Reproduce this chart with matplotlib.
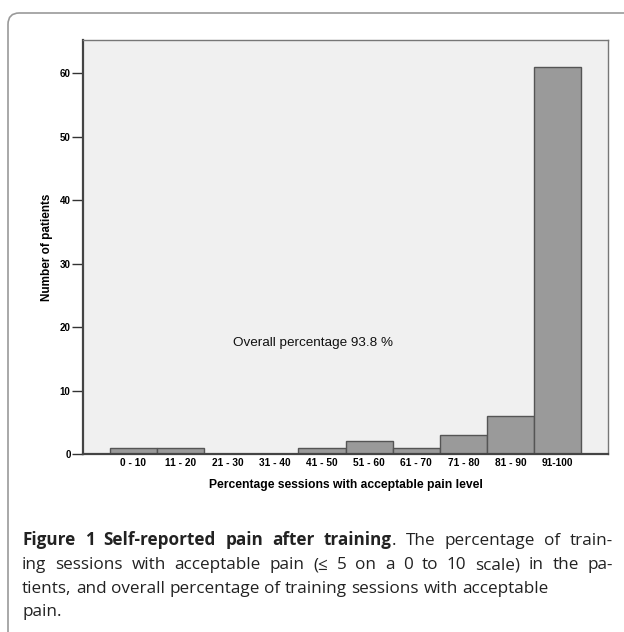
import matplotlib
matplotlib.use("Agg")
import matplotlib.pyplot as plt
from matplotlib.patches import FancyBboxPatch
import numpy as np

# Data
categories = ["0 - 10", "11 - 20", "21 - 30", "31 - 40", "41 - 50",
              "51 - 60", "61 - 70", "71 - 80", "81 - 90", "91-100"]
counts = [1, 1, 0, 0, 1, 2, 1, 3, 6, 61]
y_ticks = [0, 10, 20, 30, 40, 50, 60]
annotation = "Overall percentage 93.8 %"

W, H = 624, 632
fig = plt.figure(figsize=(W / 100, H / 100), dpi=100)
fig.patch.set_facecolor("white")


def fx(px):
    return px / W


def fy(py):
    return 1 - py / H


# Rounded outer frame (runs off the right and bottom edges)
frame = FancyBboxPatch((fx(8), fy(680)), fx(700), fy(13) - fy(680),
                       boxstyle="round,pad=0,rounding_size=0.018",
                       transform=fig.transFigure, facecolor="none",
                       edgecolor="#9a9a9a", linewidth=1.2, clip_on=False)
fig.patches.append(frame)

ax = fig.add_axes([fx(83), fy(454), fx(608) - fx(83), fy(40) - fy(454)])
ax.set_facecolor("#f0f0f0")

x = np.arange(len(categories))
ax.bar(x, counts, width=1.0, color="#9a9a9a", edgecolor="#555555", linewidth=1.0)

ax.set_xlim(-1.07, len(categories) + 0.07)
ax.set_ylim(0, 65.2)
ax.set_yticks(y_ticks)
ax.set_yticklabels([str(v) for v in y_ticks], fontsize=7, fontweight="bold",
                   family="Liberation Sans")
ax.set_xticks(x)
ax.set_xticklabels(categories, fontsize=7.3, fontweight="bold", family="Liberation Sans")
ax.tick_params(axis="y", length=8, width=1.0, color="#333333", pad=1)
ax.tick_params(axis="x", length=0, pad=3)

for side in ["left", "bottom"]:
    ax.spines[side].set_color("#444444")
    ax.spines[side].set_linewidth(1.6)
for side in ["top", "right"]:
    ax.spines[side].set_color("#777777")
    ax.spines[side].set_linewidth(1.0)

ax.set_xlabel("Percentage sessions with acceptable pain level", fontsize=8.7,
              fontweight="bold", family="Liberation Sans", labelpad=8)
ax.set_ylabel("Number of patients", fontsize=8.5, fontweight="bold",
              family="Liberation Sans", labelpad=5)

ax.text(3.82, 17.5, annotation, ha="center", va="center", fontsize=9.7,
        family="Liberation Sans", color="#111111")

# Caption, justified like the journal layout
renderer = fig.canvas.get_renderer()
cap_size = 12.3
cap_font = "Open Sans"
left_px, right_px = 22, 613
lines = [
    ([[("Figure", "bold")], [("1", "bold")], [("Self-reported", "bold")],
      [("pain", "bold")], [("after", "bold")], [("training", "bold"), (".", "normal")],
      [("The", "normal")], [("percentage", "normal")], [("of", "normal")],
      [("train-", "normal")]], True),
    ([[(w, "normal")] for w in
      "ing sessions with acceptable pain (\u2264 5 on a 0 to 10 scale) in the pa-".split(" ")], True),
    ([[(w, "normal")] for w in
      "tients, and overall percentage of training sessions with acceptable".split(" ")], False),
    ([[("pain.", "normal")]], False),
]
baselines = [545, 569, 593, 616]

space_t = fig.text(0, 0, "a a", fontsize=cap_size, family=cap_font)
aa_t = fig.text(0, 0, "aa", fontsize=cap_size, family=cap_font)
space_w = space_t.get_window_extent(renderer).width - aa_t.get_window_extent(renderer).width
space_t.remove()
aa_t.remove()

for words, base, justify in zip([l[0] for l in lines], baselines, [l[1] for l in lines]):
    placed = []
    total = 0.0
    for word in words:
        pieces = []
        for txt, weight in word:
            t = fig.text(0, fy(base), txt, fontsize=cap_size, family=cap_font,
                         fontweight=weight, va="baseline", ha="left", color="#222222")
            w = t.get_window_extent(renderer).width
            pieces.append((t, w))
            total += w
        placed.append(pieces)
    if justify and len(placed) > 1:
        gap = (right_px - left_px - total) / (len(placed) - 1)
    else:
        gap = space_w
    xpos = left_px
    for pieces in placed:
        for t, w in pieces:
            t.set_x(fx(xpos))
            xpos += w
        xpos += gap

fig.savefig("out.png", dpi=100, facecolor="white")
